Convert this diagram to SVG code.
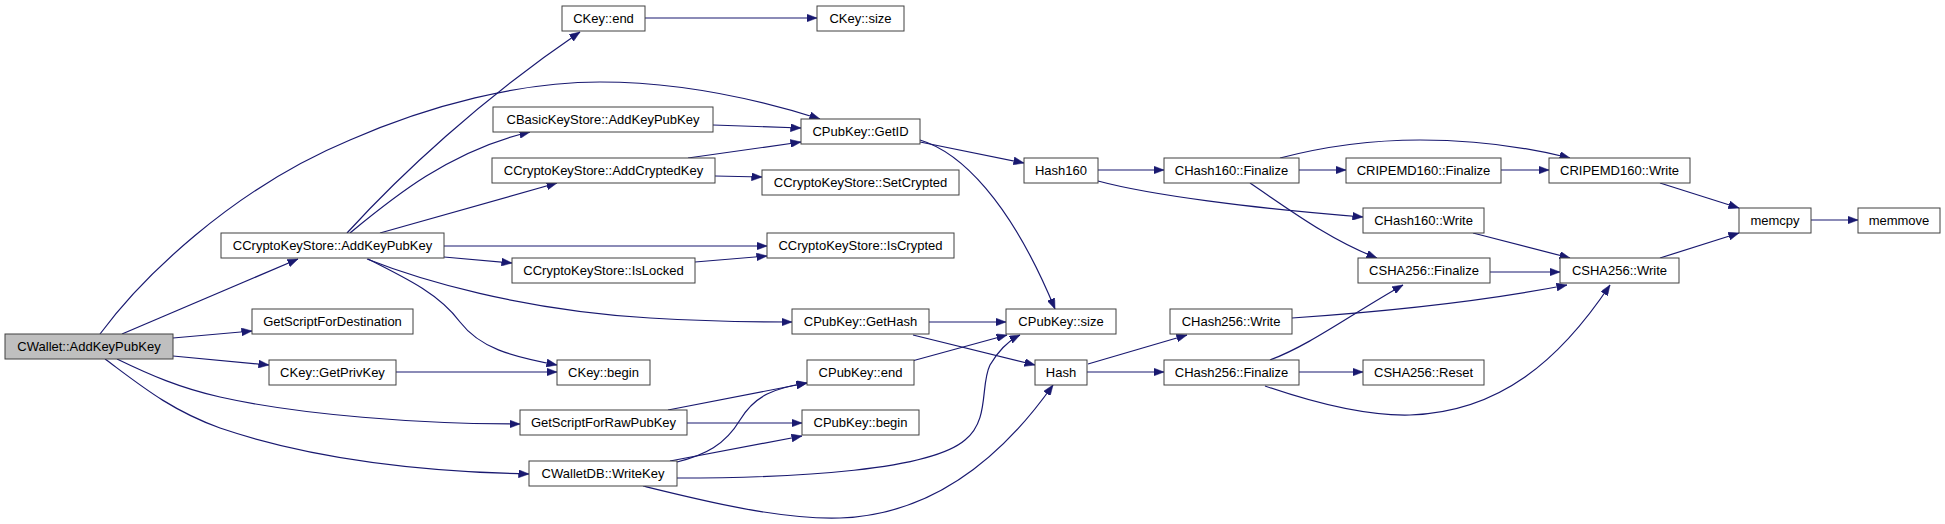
<svg xmlns="http://www.w3.org/2000/svg" width="1945" height="524" viewBox="0 0 1945 524">
<style>
.n rect{fill:#ffffff;stroke:#404040;stroke-width:1}
.n text{font-family:"Liberation Sans",Arial,sans-serif;font-size:13px;fill:#000000;text-anchor:middle}
#n0 rect{fill:#bfbfbf}
.e path{fill:none;stroke:#191970;stroke-width:1.2;marker-end:url(#ah)}
</style>
<defs>
<marker id="ah" markerUnits="userSpaceOnUse" markerWidth="11" markerHeight="8" refX="10.5" refY="4" orient="auto">
<path d="M0,0 L10.5,4 L0,8 z" fill="#191970" stroke="#191970" stroke-width="0.5"/>
</marker>
</defs>
<rect width="1945" height="524" fill="#ffffff"/>
<g class="e" id="edges">
<path d="M100,334 C140,280 230,190 350,140 C430,105 520,82 600,82 C680,82 760,100 820,119"/>
<path d="M122,334 L298,259"/>
<path d="M173,338 L252,331"/>
<path d="M173,356 L269,365"/>
<path d="M117,359 C150,375 180,388 220,397 C300,415 420,424 520,424"/>
<path d="M105,359 C140,385 170,410 220,428 C320,462 440,472 529,474"/>
<path d="M347,233 C400,175 480,100 580,32"/>
<path d="M350,233 C390,200 450,150 530,132"/>
<path d="M380,233 L557,183"/>
<path d="M444,246 L767,246"/>
<path d="M444,257 L512,263"/>
<path d="M367,259 C420,280 520,310 650,318 C700,321 760,322 792,322"/>
<path d="M368,259 C410,280 440,295 460,322 C480,348 510,356 557,365"/>
<path d="M396,372 L557,372"/>
<path d="M645,18 L817,18"/>
<path d="M713,125 L801,128"/>
<path d="M688,158 L801,142"/>
<path d="M715,176 L762,177"/>
<path d="M695,262 L767,256"/>
<path d="M920,142 L1024,163"/>
<path d="M920,140 C960,152 1010,200 1055,309"/>
<path d="M929,322 L1006,322"/>
<path d="M913,335 L1035,365"/>
<path d="M912,361 L1007,335"/>
<path d="M668,410 L807,383"/>
<path d="M687,423 L802,423"/>
<path d="M677,462 C705,455 725,445 740,420 C755,395 775,388 807,383"/>
<path d="M670,461 L802,436"/>
<path d="M677,478 C800,478 930,470 965,440 C990,420 980,385 990,365 C1000,348 1010,340 1020,335"/>
<path d="M643,486 C700,500 780,520 840,518 C930,515 1000,460 1053,385"/>
<path d="M1098,170 L1164,170"/>
<path d="M1098,181 C1150,195 1250,208 1363,217"/>
<path d="M1299,170 L1346,170"/>
<path d="M1280,158 C1330,145 1380,140 1420,140 C1480,140 1530,148 1570,158"/>
<path d="M1250,183 C1290,210 1330,240 1377,258"/>
<path d="M1501,170 L1549,170"/>
<path d="M1660,183 L1739,208"/>
<path d="M1473,233 L1570,258"/>
<path d="M1490,272 L1560,272"/>
<path d="M1292,318 C1380,312 1480,302 1567,285"/>
<path d="M1660,258 L1739,233"/>
<path d="M1811,220 L1858,220"/>
<path d="M1088,364 L1187,335"/>
<path d="M1087,372 L1164,372"/>
<path d="M1270,360 C1310,345 1350,315 1403,285"/>
<path d="M1299,372 L1363,372"/>
<path d="M1265,386 C1320,405 1370,416 1410,415 C1500,412 1560,360 1610,285"/>
</g>
<g class="n" id="n0"><rect x="5" y="334" width="168" height="25"/><text x="89" y="351">CWallet::AddKeyPubKey</text></g>
<g class="n" id="n1"><rect x="221" y="233" width="223" height="25"/><text x="332.5" y="250">CCryptoKeyStore::AddKeyPubKey</text></g>
<g class="n" id="n2"><rect x="252" y="309" width="161" height="25"/><text x="332.5" y="326">GetScriptForDestination</text></g>
<g class="n" id="n3"><rect x="269" y="360" width="127" height="25"/><text x="332.5" y="377">CKey::GetPrivKey</text></g>
<g class="n" id="n4"><rect x="562" y="6" width="83" height="25"/><text x="603.5" y="23">CKey::end</text></g>
<g class="n" id="n5"><rect x="817" y="6" width="87" height="25"/><text x="860.5" y="23">CKey::size</text></g>
<g class="n" id="n6"><rect x="493" y="107" width="220" height="25"/><text x="603" y="124">CBasicKeyStore::AddKeyPubKey</text></g>
<g class="n" id="n7"><rect x="801" y="119" width="119" height="25"/><text x="860.5" y="136">CPubKey::GetID</text></g>
<g class="n" id="n8"><rect x="492" y="158" width="223" height="25"/><text x="603.5" y="175">CCryptoKeyStore::AddCryptedKey</text></g>
<g class="n" id="n9"><rect x="762" y="170" width="197" height="25"/><text x="860.5" y="187">CCryptoKeyStore::SetCrypted</text></g>
<g class="n" id="n10"><rect x="767" y="233" width="187" height="25"/><text x="860.5" y="250">CCryptoKeyStore::IsCrypted</text></g>
<g class="n" id="n11"><rect x="512" y="258" width="183" height="25"/><text x="603.5" y="275">CCryptoKeyStore::IsLocked</text></g>
<g class="n" id="n12"><rect x="792" y="309" width="137" height="25"/><text x="860.5" y="326">CPubKey::GetHash</text></g>
<g class="n" id="n13"><rect x="557" y="360" width="93" height="25"/><text x="603.5" y="377">CKey::begin</text></g>
<g class="n" id="n14"><rect x="807" y="360" width="107" height="25"/><text x="860.5" y="377">CPubKey::end</text></g>
<g class="n" id="n15"><rect x="520" y="410" width="167" height="25"/><text x="603.5" y="427">GetScriptForRawPubKey</text></g>
<g class="n" id="n16"><rect x="802" y="410" width="117" height="25"/><text x="860.5" y="427">CPubKey::begin</text></g>
<g class="n" id="n17"><rect x="529" y="461" width="148" height="25"/><text x="603" y="478">CWalletDB::WriteKey</text></g>
<g class="n" id="n18"><rect x="1024" y="158" width="74" height="25"/><text x="1061" y="175">Hash160</text></g>
<g class="n" id="n19"><rect x="1164" y="158" width="135" height="25"/><text x="1231.5" y="175">CHash160::Finalize</text></g>
<g class="n" id="n20"><rect x="1346" y="158" width="155" height="25"/><text x="1423.5" y="175">CRIPEMD160::Finalize</text></g>
<g class="n" id="n21"><rect x="1549" y="158" width="141" height="25"/><text x="1619.5" y="175">CRIPEMD160::Write</text></g>
<g class="n" id="n22"><rect x="1363" y="208" width="121" height="25"/><text x="1423.5" y="225">CHash160::Write</text></g>
<g class="n" id="n23"><rect x="1358" y="258" width="132" height="25"/><text x="1424" y="275">CSHA256::Finalize</text></g>
<g class="n" id="n24"><rect x="1560" y="258" width="119" height="25"/><text x="1619.5" y="275">CSHA256::Write</text></g>
<g class="n" id="n25"><rect x="1739" y="208" width="72" height="25"/><text x="1775" y="225">memcpy</text></g>
<g class="n" id="n26"><rect x="1858" y="208" width="82" height="25"/><text x="1899" y="225">memmove</text></g>
<g class="n" id="n27"><rect x="1006" y="309" width="110" height="25"/><text x="1061" y="326">CPubKey::size</text></g>
<g class="n" id="n28"><rect x="1170" y="309" width="122" height="25"/><text x="1231" y="326">CHash256::Write</text></g>
<g class="n" id="n29"><rect x="1035" y="360" width="52" height="25"/><text x="1061" y="377">Hash</text></g>
<g class="n" id="n30"><rect x="1164" y="360" width="135" height="25"/><text x="1231.5" y="377">CHash256::Finalize</text></g>
<g class="n" id="n31"><rect x="1363" y="360" width="121" height="25"/><text x="1423.5" y="377">CSHA256::Reset</text></g>
</svg>
